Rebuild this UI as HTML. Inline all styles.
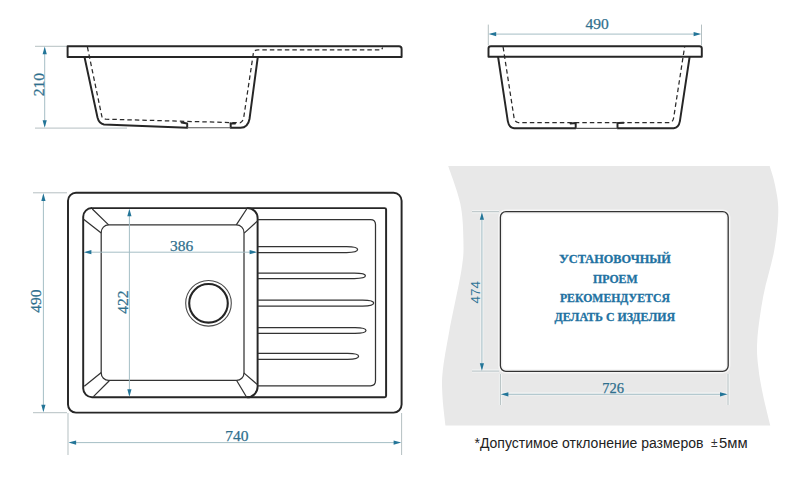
<!DOCTYPE html>
<html><head><meta charset="utf-8">
<style>
html,body{margin:0;padding:0;background:#fff;width:801px;height:492px;overflow:hidden}
svg{display:block}
.k{fill:none;stroke:#262626;stroke-width:1.95;stroke-linejoin:round;stroke-linecap:round}
.t{fill:none;stroke:#333;stroke-width:1.25;stroke-linejoin:round}
.d{fill:none;stroke:#2a2a2a;stroke-width:1.25;stroke-dasharray:4.5 3}
.dim{fill:none;stroke:#a0bac2;stroke-width:0.95}
.ext{fill:none;stroke:#b1bdbf;stroke-width:0.95}
.ar{fill:#237598;stroke:none}
.n{font-family:"Liberation Serif",serif;fill:#2f6f8d;stroke:#2f6f8d;stroke-width:0.25;font-size:15.5px}
.ns{font-family:"Liberation Sans",sans-serif;fill:#2f7396;font-size:13.5px}
.c{font-family:"Liberation Serif",serif;fill:#2272a2;font-size:11.8px;font-weight:bold;stroke:#2272a2;stroke-width:0.3}
.cb{font-size:13px}
</style></head><body>
<svg width="801" height="492" viewBox="0 0 801 492">

<!-- ===== Side view left ===== -->
<line class="ext" x1="35" y1="46.3" x2="67" y2="46.3"/>
<line class="ext" x1="35" y1="128.1" x2="127" y2="128.1"/>
<line class="dim" x1="44.7" y1="48.6" x2="44.7" y2="125.8"/><path class="ar" d="M44.7,46.6 L42.6,54.2 L46.8,54.2 Z"/><path class="ar" d="M44.7,127.8 L42.6,120.2 L46.8,120.2 Z"/>
<text class="n" transform="translate(44.4,84.7) rotate(-90)" text-anchor="middle">210</text>

<path class="k" d="M67.6,57 V46.3 H399 Q401.6,46.3 401.6,49 V57 Z"/>
<path class="k" d="M84.5,57 L97.5,117.5 Q99,123.5 104,124.5 L187.2,127.8 V123.5 L181.5,122.5"/>
<path class="k" d="M230.7,123.5 V127.8 H240.5 Q248,127.5 249.5,119 L257.8,57"/>
<path class="k" d="M230.7,123.5 H235"/>
<line x1="187" y1="127.8" x2="231" y2="127.8" stroke="#555" stroke-width="1.1"/>
<path class="d" d="M87.4,47 L101.8,116.2 Q102.5,119 106,119.2 L240,122.8 Q243,122 243.8,117 L253.4,53 Q254,49.9 258,49.9 H381.7 L382.6,47.5"/>

<!-- ===== Side view right ===== -->
<line class="ext" x1="488.3" y1="24.6" x2="488.3" y2="45.4"/>
<line class="ext" x1="701.5" y1="24.6" x2="701.5" y2="45.4"/>
<line class="dim" x1="490.6" y1="34.1" x2="699.2" y2="34.1"/><path class="ar" d="M488.6,34.1 L496.2,32.0 L496.2,36.2 Z"/><path class="ar" d="M701.2,34.1 L693.6,32.0 L693.6,36.2 Z"/>
<text class="n" x="597" y="28.7" text-anchor="middle">490</text>

<path class="k" d="M488.5,56.7 V48.6 Q488.5,46.3 491,46.3 H699.3 Q701.8,46.3 701.8,48.6 V56.7 Z"/>
<path class="k" d="M498.1,57 L507.8,121.1 Q509,127.8 514.1,128.3 H575.7 V123 L570.5,123.5"/>
<path class="k" d="M617.5,123.3 Q618,122.8 623.5,122.8 M617.5,123.3 V128.3 H673.6 Q678.7,127.8 679.9,121.1 L689.6,57"/>
<line x1="575.7" y1="128.4" x2="617.5" y2="128.4" stroke="#555" stroke-width="1.1"/>
<path class="d" d="M503.1,47 L514.1,118.2 Q514.8,122 518,122.5 H669.7 Q673,122 673.6,118.2 L684.6,47"/>

<!-- ===== Plan view ===== -->
<line class="ext" x1="33" y1="192.8" x2="67" y2="192.8"/>
<line class="ext" x1="33" y1="412.7" x2="67" y2="412.7"/>
<line class="dim" x1="43.4" y1="195.3" x2="43.4" y2="410.3"/><path class="ar" d="M43.4,193.3 L41.3,200.9 L45.5,200.9 Z"/><path class="ar" d="M43.4,412.3 L41.3,404.7 L45.5,404.7 Z"/>
<text class="n" transform="translate(41,301) rotate(-90)" text-anchor="middle">490</text>

<line class="ext" x1="68" y1="413" x2="68" y2="455"/>
<line class="ext" x1="401.6" y1="413" x2="401.6" y2="455"/>
<line class="dim" x1="70.5" y1="442.6" x2="399.2" y2="442.6"/><path class="ar" d="M68.5,442.6 L76.1,440.5 L76.1,444.7 Z"/><path class="ar" d="M401.2,442.6 L393.6,440.5 L393.6,444.7 Z"/>
<text class="n" x="236.8" y="441.2" text-anchor="middle">740</text>

<rect class="k" x="68" y="192.8" width="333.6" height="219.8" rx="8"/>
<path class="k" d="M92,208.1 H384.6 Q386.1,208.1 386.1,209.6 V395.8 Q386.1,397.3 384.6,397.3 H92 A9,9 0 0 1 83.2,388.5 V216.8 A8.7,8.7 0 0 1 92,208.1 Z"/>
<path class="k" d="M247.6,208.1 A10,10 0 0 1 257.6,218.1 V386.8 A10.5,10.5 0 0 1 247.1,397.3"/>
<rect class="t" x="101.2" y="224.9" width="142.8" height="155.5" rx="7.5"/>
<path class="t" d="M92.3,209 L108.6,224.9 M83.6,219.3 L101.2,233.1 M247,208.5 L236.3,224.9 M257.6,220.9 L244.2,233.1 M84.3,386.2 L101.3,372.4 M93.4,396.6 L109.3,380.7 M243.8,372.9 L257.4,384.6 M236.5,380.2 L246.8,397.5"/>
<path class="t" d="M257.6,219.5 H370.5 Q375.5,219.5 375.5,224.5 V380.8 Q375.5,385.8 370.5,385.8 H257.6"/>
<circle cx="208.5" cy="303.3" r="22.8" fill="none" stroke="#4a4a4a" stroke-width="1.1"/>
<circle cx="208.5" cy="303.3" r="19.3" fill="none" stroke="#252525" stroke-width="2.1"/>
<path class="t" d="M258,246.7 H346.6 C353.6,246.7 357.6,247.3 357.6,249.6 C357.6,251.9 353.6,252.5 346.6,252.5 H258"/><path class="t" d="M258,273.1 H354.4 C361.4,273.1 365.4,273.7 365.4,275.8 C365.4,277.9 361.4,278.5 354.4,278.5 H258"/><path class="t" d="M258,300.0 H362.7 C369.7,300.0 373.7,300.6 373.7,303.1 C373.7,305.5 369.7,306.1 362.7,306.1 H258"/><path class="t" d="M258,327.6 H355.0 C362.0,327.6 366.0,328.2 366.0,330.5 C366.0,332.7 362.0,333.3 355.0,333.3 H258"/><path class="t" d="M258,353.3 H347.6 C354.6,353.3 358.6,353.9 358.6,356.3 C358.6,358.7 354.6,359.3 347.6,359.3 H258"/>

<line class="dim" x1="85.8" y1="252.2" x2="255.2" y2="252.2"/><path class="ar" d="M83.8,252.2 L91.4,250.1 L91.4,254.3 Z"/><path class="ar" d="M257.2,252.2 L249.6,250.1 L249.6,254.3 Z"/>
<text class="n" x="181.6" y="250.6" text-anchor="middle">386</text>
<line class="dim" x1="129.4" y1="210.7" x2="129.4" y2="394.8"/><path class="ar" d="M129.4,208.7 L127.3,216.3 L131.5,216.3 Z"/><path class="ar" d="M129.4,396.8 L127.3,389.2 L131.5,389.2 Z"/>
<text class="n" transform="translate(128.2,302) rotate(-90)" text-anchor="middle">422</text>

<!-- ===== Cutout ===== -->
<path fill="#e8e8e8" d="M448.2,166 H769.7 C770.6,169.2 773.6,177.5 775.0,185.0 C776.4,192.5 778.4,200.2 778.3,211.0 C778.2,221.8 776.8,235.8 774.3,250.0 C771.8,264.2 766.1,281.0 763.3,296.0 C760.5,311.0 758.1,328.2 757.3,340.0 C756.5,351.8 757.3,357.8 758.3,367.0 C759.2,376.2 761.0,385.2 763.0,395.0 C765.0,404.8 769.1,420.4 770.3,425.5 H445.4 C444.9,420.4 442.8,404.1 442.4,395.0 C442.0,385.9 441.6,381.4 442.8,370.6 C444.0,359.8 446.4,346.9 449.5,330.0 C452.6,313.1 459.3,284.0 461.6,269.0 C463.9,254.0 463.6,250.8 463.4,240.0 C463.2,229.2 462.9,216.3 460.4,204.0 C457.9,191.7 450.2,172.3 448.2,166.0 Z"/>
<rect x="500.4" y="211.7" width="227.8" height="159.6" rx="5.5" fill="#fff" stroke="#f6f6f6" stroke-width="4.5"/>
<rect x="500.4" y="211.7" width="227.8" height="159.6" rx="5.5" fill="none" stroke="#333" stroke-width="1.3"/>
<g stroke="#f3f5f5" stroke-width="3" fill="none"><path d="M472,211.7 H499 M472,371.1 H499 M481.9,212 V371 M500.4,374 V405 M728.2,374 V405 M500.5,394.1 H728"/></g>
<line class="ext" x1="472" y1="211.7" x2="499" y2="211.7"/>
<line class="ext" x1="472" y1="371.1" x2="499" y2="371.1"/>
<line class="dim" x1="481.9" y1="214.2" x2="481.9" y2="368.8"/><path class="ar" d="M481.9,212.2 L479.8,219.8 L484.0,219.8 Z"/><path class="ar" d="M481.9,370.8 L479.8,363.2 L484.0,363.2 Z"/>
<text class="ns" transform="translate(479.7,292.2) rotate(-90)" text-anchor="middle">474</text>
<line class="ext" x1="500.4" y1="374" x2="500.4" y2="405"/>
<line class="ext" x1="728" y1="374" x2="728" y2="405"/>
<line class="dim" x1="502.8" y1="394.3" x2="725.6" y2="394.3"/><path class="ar" d="M500.8,394.3 L508.4,392.2 L508.4,396.4 Z"/><path class="ar" d="M727.6,394.3 L720.0,392.2 L720.0,396.4 Z"/>
<text class="n" style="font-size:14.5px" x="613" y="392.8" text-anchor="middle">726</text>

<text class="c" x="558.9" y="262.9" textLength="112" lengthAdjust="spacingAndGlyphs"><tspan class="cb">У</tspan>СТАНОВОЧНЫЙ</text>
<text class="c" x="593" y="282.7" textLength="44.7" lengthAdjust="spacingAndGlyphs">ПРОЕМ</text>
<text class="c" x="559.9" y="302.2" textLength="110" lengthAdjust="spacingAndGlyphs">РЕКОМЕНДУЕТСЯ</text>
<text class="c" x="554.6" y="321.4" textLength="120.6" lengthAdjust="spacingAndGlyphs">ДЕЛАТЬ С ИЗДЕЛИЯ</text>

<text x="474.5" y="448" font-family="Liberation Sans, sans-serif" font-size="14" fill="#222">*Допустимое отклонение размеров</text>
<text x="711" y="447" font-family="Liberation Sans, sans-serif" font-size="12" fill="#333">±</text>
<text x="719" y="448" font-family="Liberation Sans, sans-serif" font-size="14" fill="#222" textLength="28.6" lengthAdjust="spacingAndGlyphs">5мм</text>

</svg>
</body></html>
